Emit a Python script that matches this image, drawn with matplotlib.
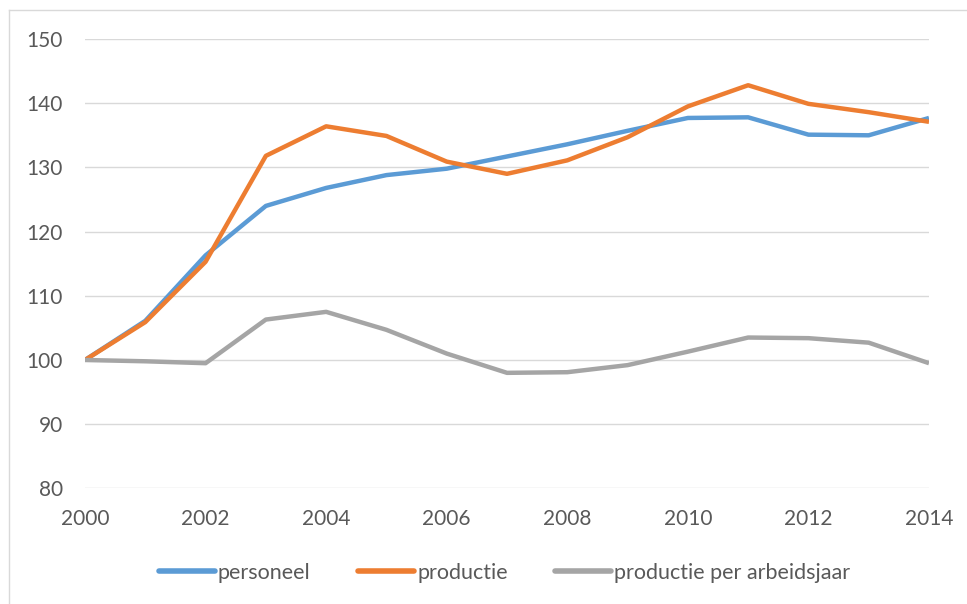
import matplotlib
matplotlib.use("Agg")
import matplotlib.pyplot as plt
from matplotlib.lines import Line2D

years = list(range(2000, 2015))
personeel = [100, 106.1, 116.3, 124.0, 126.8, 128.8, 129.8, 131.7, 133.6, 135.7, 137.7, 137.8, 135.1, 135.0, 137.7]
productie = [100, 105.9, 115.3, 131.8, 136.4, 134.9, 130.9, 129.0, 131.1, 134.7, 139.5, 142.8, 139.9, 138.6, 137.1]
per_arbeidsjaar = [100, 99.8, 99.5, 106.3, 107.5, 104.7, 101.0, 98.0, 98.1, 99.2, 101.3, 103.5, 103.4, 102.7, 99.5]
series_names = ["personeel", "productie", "productie per arbeidsjaar"]
colors = ["#5B9BD5", "#ED7D31", "#A5A5A5"]
yticks = [80, 90, 100, 110, 120, 130, 140, 150]
xticks = list(range(2000, 2015, 2))

plt.rcParams['font.family'] = ['Lato', 'DejaVu Sans']
W, H = 967, 604
fig = plt.figure(figsize=(W / 100, H / 100), dpi=100)
ax = fig.add_axes([85 / W, (H - 488.4) / H, (929 - 85) / W, (488.4 - 39) / H])

for vals, name, c in zip([personeel, productie, per_arbeidsjaar], series_names, colors):
    ax.plot(years, vals, color=c, lw=3.2, label=name, solid_joinstyle='round', solid_capstyle='butt', zorder=3)

ax.set_xlim(2000, 2014)
ax.set_ylim(80, 150)
ax.set_yticks(yticks)
ax.set_xticks(xticks)
ax.grid(axis='y', color='#D9D9D9', lw=1.0, zorder=0)
for s in ax.spines.values():
    s.set_visible(False)
ax.tick_params(length=0, labelsize=15, colors='#595959')
ax.tick_params(axis='y', pad=16)
ax.tick_params(axis='x', pad=15)

handles = [Line2D([], [], color=c, lw=4, solid_capstyle='round') for c in colors]
fig.legend(handles, series_names, loc='center', bbox_to_anchor=(504.5 / W, (H - 573) / H),
           ncol=3, frameon=False, fontsize=15.5, labelcolor='#595959',
           handlelength=2.6, handletextpad=0.15, columnspacing=2.2)

# chart border (top and left visible)
fig.add_artist(Line2D([9 / W, 9 / W], [0, (H - 10) / H], color='#D9D9D9', lw=1, transform=fig.transFigure))
fig.add_artist(Line2D([9 / W, 1], [(H - 10) / H, (H - 10) / H], color='#D9D9D9', lw=1, transform=fig.transFigure))

fig.savefig("out.png", dpi=100, facecolor='white')
